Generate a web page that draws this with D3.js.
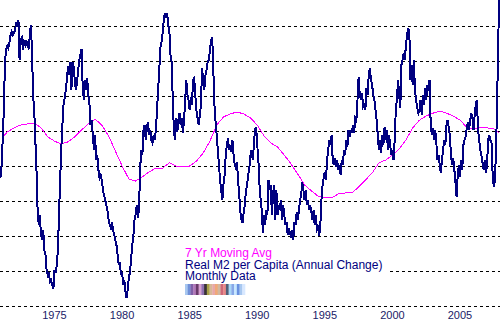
<!DOCTYPE html>
<html>
<head>
<meta charset="utf-8">
<script src="https://cdn.jsdelivr.net/npm/d3@7/dist/d3.min.js"></script>
<style>
  body { margin: 0; background: #fff; }
  svg { display: block; font-family: Arial, "Liberation Sans", sans-serif; }
</style>
</head>
<body>
<div id="chart-area"></div>
<script>
// real M2 per capita, annual % change, monthly, one row per year from Jan 1971
var startYear = 1971;
var monthly = [
  [0.66, 1.03, 1.74, 2.60, 3.94, 4.31, 4.43, 4.37, 4.54, 4.74, 4.83, 4.74],
  [4.80, 4.89, 5.11, 4.97, 5.17, 4.03, 4.60, 4.66, 4.31, 4.54, 4.46, 4.60],
  [4.43, 4.37, 4.69, 5.03, 4.31, 3.03, 2.60, 1.74, 0.89, -0.26, -0.69, -0.40],
  [-0.97, -1.11, -0.83, -1.40, -1.54, -1.97, -2.11, -2.03, -2.31, -2.26, -2.40, -2.51],
  [-1.97, -2.06, -1.83, -1.40, -0.40, 0.60, 1.46, 2.17, 2.74, 2.94, 3.17, 3.46],
  [3.86, 3.60, 3.97, 3.17, 3.97, 3.83, 3.46, 3.17, 3.40, 3.74, 4.03, 4.17],
  [4.34, 3.31, 2.89, 3.46, 3.17, 3.51, 3.03, 2.80, 2.17, 2.31, 1.89, 1.46],
  [1.89, 1.17, 1.31, 0.89, 0.66, 0.74, 0.60, 0.31, 0.17, 0.03, -0.11, -0.26],
  [-0.54, -0.69, -0.77, -0.60, -0.83, -0.97, -1.11, -1.26, -1.54, -1.83, -1.74, -2.11],
  [-2.03, -2.40, -2.26, -2.60, -2.77, -2.54, -2.20, -2.03, -1.69, -1.26, -1.03, -0.54],
  [-0.40, -0.11, -0.49, -0.26, 0.89, 1.46, 1.31, 2.03, 2.17, 1.74, 2.09, 2.26],
  [1.89, 2.03, 1.74, 1.66, 1.89, 1.74, 2.03, 2.60, 3.17, 3.74, 4.37, 4.54],
  [4.80, 5.17, 5.37, 5.23, 5.37, 5.03, 4.83, 4.17, 3.97, 2.89, 2.03, 1.74],
  [2.37, 1.97, 2.31, 2.51, 2.17, 2.37, 1.94, 2.31, 2.89, 3.46, 3.03, 2.89],
  [2.60, 2.97, 2.74, 3.46, 3.51, 3.03, 2.60, 2.37, 2.17, 2.46, 2.74, 3.80],
  [3.46, 3.17, 3.60, 3.74, 3.97, 4.03, 4.31, 4.60, 4.69, 3.74, 2.74, 2.26],
  [1.89, 1.46, 1.03, 0.60, 0.31, 0.03, 0.46, 0.74, 1.31, 1.60, 1.80, 1.46],
  [1.60, 1.40, 1.74, 1.31, 1.03, 0.94, 1.11, 0.60, 0.17, -0.31, -0.54, -0.63],
  [-0.31, -0.11, 0.31, 0.46, 0.74, 0.94, 1.31, 1.46, 1.17, 1.60, 2.03, 2.11],
  [1.60, 1.17, 0.46, 0.03, -0.26, -0.91, -0.40, -0.69, -0.26, -0.40, 0.60, 0.31],
  [0.46, -0.40, 0.17, 0.46, -0.54, 0.31, -0.40, -0.11, -0.26, 0.03, -0.54, -0.11],
  [-0.40, -0.69, -0.60, -0.97, -0.77, -0.89, -1.06, -0.83, -1.11, -0.60, -0.69, -0.31],
  [-0.54, -0.26, 0.03, 0.17, 0.54, 0.31, 0.03, 0.31, -0.11, 0.03, -0.26, -0.11],
  [-0.31, -0.54, -0.26, -0.69, -0.40, -0.83, -0.77, -1.00, -0.69, 0.03, 0.46, 0.66],
  [0.83, 0.60, 1.17, 1.46, 1.74, 1.60, 1.89, 1.17, 1.03, 1.23, 0.97, 1.17],
  [0.89, 1.03, 0.74, 1.17, 1.03, 1.46, 1.31, 1.74, 1.54, 2.03, 1.83, 2.03],
  [1.94, 2.17, 1.94, 2.37, 2.31, 2.89, 3.54, 3.03, 2.89, 3.09, 2.69, 2.74],
  [2.60, 3.23, 3.03, 3.60, 3.80, 3.46, 3.31, 3.03, 2.89, 2.60, 2.31, 1.89],
  [1.46, 1.74, 1.37, 1.89, 1.60, 2.11, 1.74, 2.03, 1.46, 1.89, 1.60, 1.31],
  [1.46, 1.17, 1.74, 2.60, 2.89, 3.46, 3.03, 2.66, 3.89, 4.03, 4.23, 4.03],
  [4.46, 4.74, 4.94, 4.83, 3.46, 3.89, 3.31, 4.03, 3.17, 2.89, 2.66, 2.51],
  [2.60, 2.89, 2.46, 3.03, 2.74, 3.23, 2.89, 3.31, 3.23, 3.46, 2.17, 1.89],
  [2.09, 1.74, 2.03, 1.66, 1.17, 1.31, 1.03, 0.80, 1.17, 1.46, 1.74, 1.60],
  [2.17, 2.31, 2.09, 1.89, 1.31, 1.03, 1.23, 0.89, 0.51, 0.11, 0.74, 1.03],
  [0.69, 1.17, 0.89, 1.60, 1.74, 1.83, 2.09, 2.26, 2.03, 2.31, 2.51, 2.37],
  [2.03, 2.46, 2.74, 2.89, 2.03, 1.74, 1.46, 1.31, 1.09, 0.89, 1.17, 0.80],
  [1.03, 1.74, 1.89, 1.74, 1.66, 0.74, 0.40, 0.60, 1.46, 2.89, 4.60, 6.31]
];

// 7 year moving average
var maYears = [1971.25, 1971.5, 1972, 1972.5, 1973, 1973.5, 1974, 1974.5, 1975, 1975.5,
  1976, 1976.5, 1977, 1977.5, 1978, 1978.5, 1979, 1979.5, 1980, 1980.5,
  1981, 1981.5, 1982, 1982.5, 1983, 1983.5, 1984, 1984.5, 1985, 1985.5,
  1986, 1986.5, 1987, 1987.5, 1988, 1988.5, 1989, 1989.5, 1990, 1990.5,
  1991, 1991.5, 1992, 1992.5, 1993, 1993.5, 1994, 1994.5, 1995, 1995.5,
  1996, 1996.5, 1997, 1997.5, 1998, 1998.5, 1999, 1999.5, 2000, 2000.5,
  2001, 2001.5, 2002, 2002.5, 2003, 2003.5, 2004, 2004.5, 2005, 2005.5,
  2006, 2006.5, 2007, 2007.5, 2007.92];
var maValues = [1.86, 1.97, 2.09, 2.17, 2.20, 2.23, 2.09, 1.83, 1.71, 1.63,
  1.69, 1.83, 2.03, 2.20, 2.34, 2.17, 1.86, 1.43, 1.00, 0.63,
  0.57, 0.69, 0.83, 0.94, 0.94, 1.09, 1.00, 0.97, 1.00, 1.14,
  1.37, 1.71, 2.17, 2.40, 2.49, 2.54, 2.49, 2.37, 2.17, 1.86,
  1.66, 1.54, 1.31, 1.06, 0.77, 0.46, 0.29, 0.14, 0.09, 0.09,
  0.20, 0.23, 0.23, 0.40, 0.60, 0.80, 1.09, 1.17, 1.31, 1.49,
  1.74, 2.09, 2.31, 2.43, 2.51, 2.57, 2.51, 2.43, 2.31, 2.11,
  2.06, 2.11, 2.09, 2.06, 1.94];

var gridValues = [-3, -2, -1, 0, 1, 2, 3, 4, 5];
var tickYears = [1975, 1980, 1985, 1990, 1995, 2000, 2005];

var legendLines = [
  { text: "7 Yr Moving Avg", color: "#ff00ff" },
  { text: "Real M2 per Capita (Annual Change)", color: "#000080" },
  { text: "Monthly Data", color: "#000080" }
];
var stripColors = ["#a8c8f0", "#7090d8", "#8060a8", "#b078b8", "#6a3a6a", "#d8a0d0",
  "#9070b0", "#383038", "#a8a048", "#d8b898", "#e8a8a8", "#f0a878", "#d0b8a0",
  "#d06878", "#e88888", "#506078", "#a8d8f8", "#88a8e8", "#c8e8ff", "#6890e0",
  "#a8c8f0", "#d8e8ff"];

var width = 500, height = 321;

var svg = d3.select("#chart-area").append("svg")
  .attr("width", width)
  .attr("height", height);

var x = d3.scaleLinear().domain([1975, 2005]).range([54.5, 460]);
var y = d3.scaleLinear().domain([-3, 5]).range([306, 26]);

// flatten monthly rows
var series = [];
monthly.forEach(function(row, yi) {
  row.forEach(function(v, m) {
    series.push({ date: startYear + yi + m / 12, value: v });
  });
});
var ma = maYears.map(function(d, i) {
  return { date: d, value: maValues[i] };
});

// dashed grid
svg.selectAll("line.grid").data(gridValues).enter()
  .append("line")
    .attr("class", "grid")
    .attr("x1", 0)
    .attr("x2", width)
    .attr("y1", function(d) { return Math.round(y(d)) + 0.5; })
    .attr("y2", function(d) { return Math.round(y(d)) + 0.5; })
    .attr("stroke", "#000")
    .attr("stroke-width", 1)
    .attr("stroke-dasharray", "3,3");

svg.append("clipPath").attr("id", "plot-clip")
  .append("rect").attr("x", 0).attr("y", 0).attr("width", width).attr("height", 306);

var line = d3.line()
  .x(function(d) { return x(d.date); })
  .y(function(d) { return y(d.value); });

var plot = svg.append("g").attr("clip-path", "url(#plot-clip)");

plot.append("path")
  .datum(ma)
  .attr("d", line)
  .attr("fill", "none")
  .attr("stroke", "#ff00ff")
  .attr("stroke-width", 1)
  .style("shape-rendering", "crispEdges");

plot.append("path")
  .datum(series)
  .attr("d", line)
  .attr("fill", "none")
  .attr("stroke", "#000080")
  .attr("stroke-width", 2)
  .style("shape-rendering", "crispEdges");

// year labels
svg.selectAll("text.year").data(tickYears).enter()
  .append("text")
    .attr("class", "year")
    .attr("x", function(d) { return x(d); })
    .attr("y", 319)
    .attr("text-anchor", "middle")
    .style("font-size", "11px")
    .attr("fill", "#1a1a66")
    .text(function(d) { return d; });

// legend box (white, hides the grid behind it)
var legend = svg.append("g");
legend.append("rect")
  .attr("x", 178)
  .attr("y", 243)
  .attr("width", 209)
  .attr("height", 56)
  .attr("fill", "#fff");

legend.selectAll("text.legend").data(legendLines).enter()
  .append("text")
    .attr("class", "legend")
    .attr("x", 185)
    .attr("y", function(d, i) { return 257 + i * 11.5; })
    .style("font-size", "12px")
    .attr("fill", function(d) { return d.color; })
    .text(function(d) { return d.text; });

var stripX = d3.scaleBand().domain(d3.range(stripColors.length)).range([185, 245]);
legend.selectAll("rect.strip").data(stripColors).enter()
  .append("rect")
    .attr("class", "strip")
    .attr("x", function(d, i) { return stripX(i); })
    .attr("y", 284)
    .attr("width", stripX.bandwidth() + 0.3)
    .attr("height", 11)
    .attr("fill", function(d) { return d; });
</script>
</body>
</html>
